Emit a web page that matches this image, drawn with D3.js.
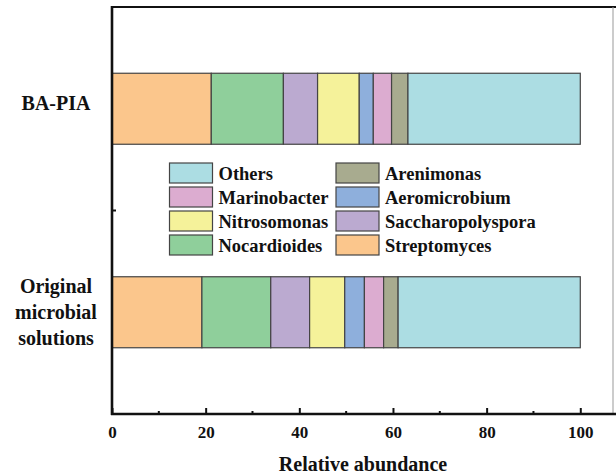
<!DOCTYPE html>
<html><head><meta charset="utf-8">
<script src="https://cdn.jsdelivr.net/npm/d3@7"></script>
<style>body{margin:0;background:#fff}svg{display:block}text{font-family:"Liberation Serif","Times New Roman",serif;font-weight:bold;fill:#111}</style>
</head><body><svg id="c" width="616" height="476"></svg>
<script>
const samples = ["Original microbial solutions", "BA-PIA"];
const sampleLines = [["Original","microbial","solutions"],["BA-PIA"]];
const genera = ["Streptomyces","Nocardioides","Saccharopolyspora","Nitrosomonas","Aeromicrobium","Marinobacter","Arenimonas","Others"];
const originalValues = [19.2, 14.7, 8.3, 7.5, 4.2, 4.1, 3.1, 38.9];
const bapiaValues = [21.2, 15.4, 7.3, 8.9, 3.0, 3.9, 3.5, 36.8];
const colors = ["#FBC68C","#8FCF9B","#BBAAD0","#F5F29A","#8EAFDC","#DCACD0","#A8AB8F","#ACDDE3"];
const xTicks = [0,20,40,60,80,100];
const legendOrder = ["Others","Arenimonas","Marinobacter","Aeromicrobium","Nitrosomonas","Saccharopolyspora","Nocardioides","Streptomyces"];

const svg = d3.select("#c");
const L = 112, R = 614, T = 7, B = 414;
const x = d3.scaleLinear().domain([0, 107.2]).range([L, R]);
const y = d3.scaleLinear().domain([0.5, 2.5]).range([B, T]);
const bandH = 71;

const valuesBySample = [originalValues, bapiaValues];
const rows = [];
valuesBySample.forEach((vals, si) => {
  let acc = 0;
  vals.forEach((v, gi) => { rows.push({si, gi, x0: acc, x1: acc + v}); acc += v; });
});

// frame: top thick, right thin
svg.append("line").attr("x1", L).attr("x2", R+2).attr("y1", T).attr("y2", T).attr("stroke", "#111").attr("stroke-width", 2.2);
svg.append("line").attr("x1", R-1).attr("x2", R-1).attr("y1", T).attr("y2", B).attr("stroke", "#999").attr("stroke-width", 1);

// bars
svg.append("g").selectAll("rect").data(rows).join("rect")
  .attr("x", d => x(d.x0)).attr("width", d => x(d.x1) - x(d.x0))
  .attr("y", d => y(d.si + 1) - bandH/2).attr("height", bandH)
  .attr("fill", d => colors[d.gi]).attr("stroke", "#444").attr("stroke-width", 1.2);

// x axis
const xAxis = d3.axisBottom(x).tickValues(xTicks).tickSizeInner(-6).tickSizeOuter(0).tickPadding(12);
const gx = svg.append("g").attr("transform", `translate(0,${B})`).call(xAxis);
gx.select(".domain").attr("stroke", "#111").attr("stroke-width", 2.4).attr("d", `M${L-1},0H${R+2}`);
gx.selectAll(".tick line").attr("stroke", "#111").attr("stroke-width", 2);
gx.selectAll(".tick text").attr("font-size", 17).attr("fill", "#111").attr("font-family", "Liberation Serif").attr("font-weight", "bold");
// minor ticks
svg.append("g").selectAll("line").data([10,30,50,70,90]).join("line")
  .attr("x1", d => x(d)).attr("x2", d => x(d)).attr("y1", B).attr("y2", B-3)
  .attr("stroke", "#111").attr("stroke-width", 2);

// y axis
svg.append("line").attr("x1", L).attr("x2", L).attr("y1", T-1).attr("y2", B+1).attr("stroke", "#111").attr("stroke-width", 2.6);
svg.append("line").attr("x1", L).attr("x2", L+4).attr("y1", y(1.5)).attr("y2", y(1.5)).attr("stroke", "#111").attr("stroke-width", 2);

// y labels
const lbl = svg.append("g");
sampleLines.forEach((lines, si) => {
  const cy = y(si + 1) + (lines.length === 1 ? -6 : 0);
  lines.forEach((t, li) => {
    lbl.append("text").attr("x", 56).attr("y", cy + (li - (lines.length-1)/2) * 26)
      .attr("text-anchor", "middle").attr("dominant-baseline", "central")
      .attr("font-size", 20).text(t);
  });
});

// axis title
svg.append("text").attr("x", (L+R)/2).attr("y", 464).attr("text-anchor", "middle")
  .attr("dominant-baseline", "central").attr("font-size", 20).text("Relative abundance");

// legend
const lg = svg.append("g");
legendOrder.forEach((name, i) => {
  const col = i % 2, row = Math.floor(i / 2);
  const lx = col === 0 ? 169.5 : 336, ly = 163 + row * 24;
  lg.append("rect").attr("x", lx).attr("y", ly).attr("width", 43).attr("height", 20)
    .attr("fill", colors[genera.indexOf(name)]).attr("stroke", "#444").attr("stroke-width", 1.2);
  lg.append("text").attr("x", lx + 49).attr("y", ly + 10.5).attr("dominant-baseline", "central")
    .attr("font-size", 18.5).text(name);
});
</script></body></html>
